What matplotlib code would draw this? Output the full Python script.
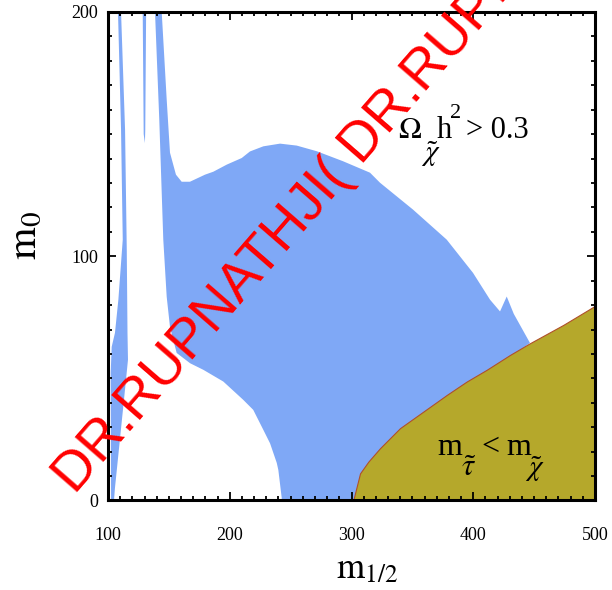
import matplotlib.pyplot as plt
from matplotlib.patches import Polygon
from matplotlib.ticker import MultipleLocator

plt.rcParams['mathtext.fontset'] = 'stix'
plt.rcParams['font.family'] = 'Liberation Serif'

# boundaries, (m_1/2, m_0)
strip1 = [(108.2, 200), (110.7, 151.8), (112.1, 106.8), (108.5, 82.2), (105.7, 68.6),
          (103.0, 62.9), (102.2, 52.3), (102.5, 1.4), (102.5, 0), (104.9, 0),
          (105.7, 5.1), (113.1, 41.2), (116.4, 57.6), (116.0, 68.6), (115.4, 102.7),
          (114.0, 151.8), (110.7, 200)]
strip2 = [(128.5, 200), (131.3, 200), (130.6, 151.8), (130.3, 146.3), (129.3, 150)]
blob = [(138.6, 200), (144.1, 200), (148.2, 164.1), (150.9, 142.4), (155.8, 133.4),
        (160.5, 130.5), (167.3, 130.5), (179.7, 133.4), (186.5, 134.6), (197.5, 137.5),
        (209.8, 140.2), (216.6, 142.9), (227.6, 145.0), (241.3, 146.1), (255.0, 145.3),
        (271.4, 143.0), (293.0, 138.9), (315.2, 134.2), (323.4, 130.1), (350.5, 119.1),
        (378.2, 106.8), (399.8, 93.2), (413.8, 82.2), (422.0, 77.4), (427.5, 83.5),
        (433.3, 76.4), (446.6, 64.5), (380, 40), (320, 10), (310, 0), (242.6, 0),
        (242.7, 1), (239.9, 12.5), (238.6, 15.4), (233.1, 23.4), (227.6, 28.9),
        (219.3, 37.1), (211.1, 41.2), (194.7, 48.7), (178.3, 53.5), (167.4, 56.2),
        (156.4, 60.4), (150.9, 71.1), (148.2, 83.4), (145.4, 106.8), (142.1, 156)]
stau_x = [301.4, 307.0, 313.8, 323.4, 339.8, 359.0, 378.2, 394.6, 411.0, 430.2, 446.6, 474.0, 500.0]
stau_y = [0.0, 11.1, 15.9, 21.4, 29.6, 36.4, 43.2, 48.7, 53.5, 59.6, 64.4, 71.9, 79.7]

blue = '#7fa8f6'
olive = '#b5a82b'
W, H = 612, 590

fig = plt.figure(figsize=(6.12, 5.9), dpi=100)
ax = fig.add_axes([0.1765, 0.1517, 0.7957, 0.828])

for pts in (strip1, strip2, blob):
    ax.add_patch(Polygon(pts, closed=True, facecolor=blue, edgecolor='none'))

ax.fill_between(stau_x, 0, stau_y, facecolor=olive, edgecolor='#b0502a', linewidth=0.8)
ax.plot([stau_x[-1], stau_x[-1]], [0, stau_y[-1]], color='#b0502a', lw=0.8)

ax.set_xlim(100, 500)
ax.set_ylim(0, 200)
ax.xaxis.set_major_locator(MultipleLocator(100))
ax.xaxis.set_minor_locator(MultipleLocator(10))
ax.yaxis.set_major_locator(MultipleLocator(100))
ax.yaxis.set_minor_locator(MultipleLocator(10))
ax.tick_params(which='both', direction='in', top=True, right=True, width=1.3)
ax.tick_params(which='major', length=6, labelsize=13)
ax.tick_params(axis='x', which='major', pad=19)
ax.tick_params(axis='y', which='major', pad=7)
ax.tick_params(which='minor', length=3)
for s in ax.spines.values():
    s.set_linewidth(2.2)


def put(px, py, s, size):
    # place a piece of text by its pixel position (left, baseline)
    fig.text(px / W, 1 - py / H, s, fontsize=size, ha='left', va='baseline')


# Omega_chi h^2 > 0.3
put(398, 138, r'$\Omega$', 22)
put(421, 161, r'$\tilde{\chi}$', 21)
put(437, 138, 'h', 22)
put(450, 118, '2', 16)
put(466, 138, '> 0.3', 22)

# m_stau < m_chi
put(437, 455, 'm', 23)
put(461, 476, r'$\tilde{\tau}$', 22)
put(481, 455, '<', 23)
put(506, 455, 'm', 23)
put(525, 476, r'$\tilde{\chi}$', 21)

fig.text(0.6, 0.02, r'$\mathrm{m}_{1/2}$', fontsize=26, ha='center', va='baseline')
fig.text(0.041, 0.6, r'$\mathrm{m}_{0}$', fontsize=30, ha='center', va='center', rotation=90)

fig.text(75 / W, 1 - 495 / H, 'DR.RUPNATHJI( DR.RUPNATHJI( DR.RUPNATHJI(',
         family='Liberation Sans', fontsize=40, color='red', rotation=49,
         rotation_mode='anchor', ha='left', va='baseline')

fig.savefig('out.png')
